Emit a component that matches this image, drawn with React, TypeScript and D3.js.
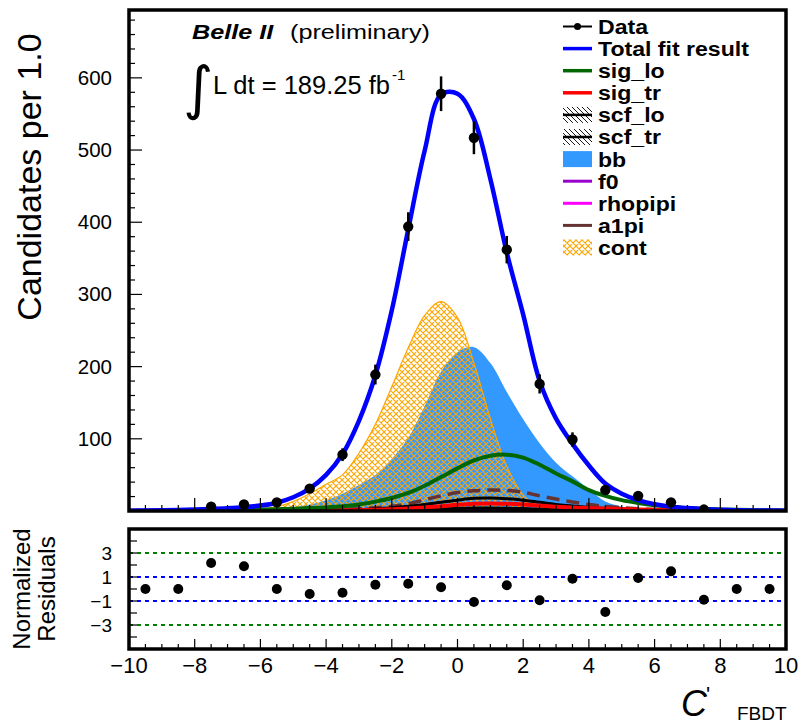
import React from 'react';
import * as d3 from 'd3';

// ---------- data ----------
const binCenters = [-9.5, -8.5, -7.5, -6.5, -5.5, -4.5, -3.5, -2.5, -1.5, -0.5, 0.5, 1.5, 2.5, 3.5, 4.5, 5.5, 6.5, 7.5, 8.5, 9.5];
const dataCounts = [0, 0, 6, 9, 12, 31, 78, 189, 394, 578, 517, 362, 176, 99, 29, 21, 12, 2, 0, 0];
const pullValues = [0, 0, 2.17, 1.89, 0, -0.42, -0.31, 0.36, 0.44, 0.14, -1.08, 0.31, -0.94, 0.86, -1.92, 0.92, 1.47, -0.89, 0, 0];

const gridX = [-10, -9.5, -9, -8.5, -8, -7.5, -7, -6.5, -6, -5.5, -5, -4.5, -4, -3.5, -3, -2.5, -2, -1.5, -1, -0.5, 0, 0.5, 1, 1.5, 2, 2.5, 3, 3.5, 4, 4.5, 5, 5.5, 6, 6.5, 7, 7.5, 8, 8.5, 9, 9.5, 10];
const totalFit = [0.5, 0.7, 1, 1.4, 2, 2.7, 3.7, 5.2, 7.5, 11.5, 19, 31, 50, 79, 125, 188, 278, 390, 499, 577, 578, 543, 460, 358, 272, 180, 128, 93, 63, 38, 24, 15, 9.5, 6, 4, 2.5, 1.6, 1.1, 0.8, 0.6, 0.5];
const contPdf = [0, 0, 0, 0, 0.1, 0.2, 0.5, 1.2, 2.5, 6, 13, 24, 37, 50, 80, 120, 172, 226, 271, 290, 268, 205, 128, 62, 22, 6, 1, 0.2, 0, 0, 0, 0, 0, 0, 0, 0, 0, 0, 0, 0, 0];
const bbPdf = [0, 0, 0, 0.1, 0.2, 0.3, 0.5, 1, 1.5, 3, 5, 9, 15, 24, 36, 50, 72, 101, 145, 193, 220, 227, 205, 165, 127, 94, 67, 48, 30, 13, 6, 2.5, 1, 0.5, 0.2, 0, 0, 0, 0, 0, 0];
const sigLoPdf = [0.3, 0.4, 0.5, 0.6, 0.8, 1, 1.2, 1.5, 2, 2.5, 3, 4, 5, 6.5, 9, 13, 18, 25, 35, 47, 59, 70, 76.5, 78, 74, 64, 52, 41, 29, 21, 15, 11, 8, 6, 4.2, 3, 2.2, 1.6, 1.2, 0.9, 0.7];
const sigTrPdf = [0.2, 0.2, 0.2, 0.25, 0.3, 0.3, 0.35, 0.4, 0.5, 0.55, 0.6, 0.7, 0.8, 1, 1.2, 1.8, 2.5, 3.5, 5, 6.5, 8.5, 10, 10.5, 10, 9, 7.5, 6, 5, 4, 3.3, 2.7, 2.2, 1.8, 1.5, 1.2, 1, 0.8, 0.6, 0.5, 0.4, 0.3];
const scfLoPdf = [0, 0, 0, 0, 0, 0, 0.1, 0.1, 0.2, 0.3, 0.4, 0.5, 0.6, 1, 1.8, 3, 4.5, 6.5, 9, 12, 15, 17.5, 18, 17, 15, 12, 9, 7, 5, 3.5, 2.5, 1.8, 1.2, 0.8, 0.5, 0.3, 0.2, 0.1, 0.1, 0, 0];
const scfTrPdf = [0, 0, 0, 0, 0, 0, 0, 0, 0, 0.1, 0.1, 0.2, 0.3, 0.4, 0.6, 0.9, 1.3, 1.8, 2.4, 3, 3.6, 4, 4.1, 3.8, 3.3, 2.6, 2, 1.5, 1.1, 0.8, 0.6, 0.4, 0.3, 0.2, 0.1, 0.1, 0, 0, 0, 0, 0];
const f0Pdf = [0, 0, 0, 0, 0, 0, 0, 0, 0, 0, 0.1, 0.1, 0.2, 0.3, 0.4, 0.6, 0.9, 1.3, 1.8, 2.3, 2.7, 3, 3.1, 2.9, 2.5, 2, 1.5, 1.1, 0.8, 0.5, 0.3, 0.2, 0.1, 0.1, 0, 0, 0, 0, 0, 0, 0];
const rhoPdf = [0, 0, 0, 0, 0, 0, 0, 0, 0, 0, 0, 0.1, 0.1, 0.2, 0.3, 0.4, 0.6, 0.8, 1.1, 1.4, 1.6, 1.8, 1.8, 1.7, 1.5, 1.2, 0.9, 0.7, 0.5, 0.3, 0.2, 0.1, 0.1, 0, 0, 0, 0, 0, 0, 0, 0];
const a1piPdf = [0, 0, 0, 0, 0, 0, 0, 0, 0.1, 0.2, 0.4, 0.7, 1.2, 2, 3, 4.5, 6.5, 10, 15.5, 21, 25.5, 28, 29, 28.5, 26, 21, 16.5, 12.5, 9, 6.5, 4.5, 3, 2, 1.3, 0.8, 0.5, 0.3, 0.2, 0.1, 0.1, 0];

const yTickValues = [100, 200, 300, 400, 500, 600];
const xTickValues = [-10, -8, -6, -4, -2, 0, 2, 4, 6, 8, 10];
const resTickLabels = [3, 1, -1, -3];

const legendEntries = ['Data', 'Total fit result', 'sig_lo', 'sig_tr', 'scf_lo', 'scf_tr', 'bb', 'f0', 'rhopipi', 'a1pi', 'cont'];

// ---------- layout ----------
const W = 805, H = 727;
const X0 = 129, X1 = 786;
const MAIN_TOP = 10, MAIN_BOT = 511;
const RES_TOP = 529, RES_BOT = 649;
const FONT = '"Liberation Sans", Arial, Helvetica, sans-serif';

const C = {
  total: '#0000ff', sigLo: '#006600', sigTr: '#ff0000', bb: '#3399ff',
  f0: '#9900cc', rho: '#ff00ff', a1pi: '#663333', cont: '#ffa500',
};

export default function App() {
  const x = d3.scaleLinear().domain([-10, 10]).range([X0, X1]);
  const y = d3.scaleLinear().domain([0, 694]).range([MAIN_BOT, MAIN_TOP]);
  const yr = d3.scaleLinear().domain([-5, 5]).range([RES_BOT, RES_TOP]);

  const pts = (vals: number[]) => gridX.map((gx, i) => [gx, vals[i]] as [number, number]);
  const line = d3.line<[number, number]>().x(d => x(d[0])).y(d => y(d[1])).curve(d3.curveCatmullRom.alpha(0.5));
  const area = d3.area<[number, number]>().x(d => x(d[0])).y0(y(0)).y1(d => y(d[1])).curve(d3.curveCatmullRom.alpha(0.5));

  const minorX = d3.range(-10, 10.001, 0.5);
  const minorY = d3.range(0, 694, 20);
  const resTicks = d3.range(-4, 4.001, 1);

  const legY = (i: number) => 26.5 + i * 22.1;
  const LX0 = 563, LX1 = 592, LT = 598;

  return (
    <svg width={W} height={H} style={{ position: 'absolute', left: 0, top: 0, background: '#fff' }} fontFamily={FONT}>
      <defs>
        <clipPath id="mainClip"><rect x={X0} y={MAIN_TOP} width={X1 - X0} height={MAIN_BOT - MAIN_TOP} /></clipPath>
        <pattern id="crossHatch" width="6" height="6" patternUnits="userSpaceOnUse">
          <path d="M0,0 L6,6 M6,0 L0,6 M-1,5 L1,7 M5,-1 L7,1 M-1,1 L1,-1 M5,7 L7,5" stroke={C.cont} strokeWidth="1.1" fill="none" />
        </pattern>
        <pattern id="diagHatch" width="5" height="5" patternUnits="userSpaceOnUse">
          <path d="M0,0 L5,5 M-1,4 L1,6 M4,-1 L6,1" stroke="#000" strokeWidth="0.9" fill="none" />
        </pattern>
      </defs>

      {/* ---------- main panel ---------- */}
      <g clipPath="url(#mainClip)">
        <path d={area(pts(bbPdf)) || ''} fill={C.bb} />
        <path d={area(pts(contPdf)) || ''} fill="url(#crossHatch)" stroke={C.cont} strokeWidth={1.2} />
        <path d={line(pts(rhoPdf)) || ''} fill="none" stroke={C.rho} strokeWidth={3} />
        <path d={line(pts(f0Pdf)) || ''} fill="none" stroke={C.f0} strokeWidth={3} />
        <path d={line(pts(a1piPdf)) || ''} fill="none" stroke={C.a1pi} strokeWidth={3.5} strokeDasharray="13,7" />
        <path d={line(pts(scfTrPdf)) || ''} fill="none" stroke="#000" strokeWidth={3} />
        <path d={line(pts(scfLoPdf)) || ''} fill="none" stroke="#000" strokeWidth={3} />
        <path d={line(pts(sigTrPdf)) || ''} fill="none" stroke={C.sigTr} strokeWidth={4} />
        <path d={line(pts(sigLoPdf)) || ''} fill="none" stroke={C.sigLo} strokeWidth={4} />
        <path d={line(pts(totalFit)) || ''} fill="none" stroke={C.total} strokeWidth={4.5} />
        {binCenters.map((bx, i) => {
          const n = dataCounts[i];
          if (n <= 0) return null;
          const e = Math.sqrt(n);
          return (
            <g key={i}>
              <line x1={x(bx)} x2={x(bx)} y1={y(n - e)} y2={y(n + e)} stroke="#000" strokeWidth={2.5} />
              <circle cx={x(bx)} cy={y(n)} r={5.2} fill="#000" />
            </g>
          );
        })}
      </g>

      {/* main axes ticks */}
      {minorX.map(v => {
        const major = Math.abs(v % 2) < 1e-6;
        return <line key={'mx' + v} x1={x(v)} x2={x(v)} y1={MAIN_BOT} y2={MAIN_BOT - (major ? 13 : 6)} stroke="#000" strokeWidth={1.2} />;
      })}
      {minorY.map(v => {
        const major = v % 100 === 0;
        return <line key={'my' + v} x1={X0} x2={X0 + (major ? 13 : 6)} y1={y(v)} y2={y(v)} stroke="#000" strokeWidth={1.2} />;
      })}
      <rect x={X0} y={MAIN_TOP} width={X1 - X0} height={MAIN_BOT - MAIN_TOP} fill="none" stroke="#000" strokeWidth={3.5} />
      {yTickValues.map(v => (
        <text key={'yl' + v} x={112} y={y(v) + 7} textAnchor="end" fontSize={20.5}>{v}</text>
      ))}
      <text transform={`translate(41,177) rotate(-90)`} textAnchor="middle" fontSize={34}>Candidates per 1.0</text>

      {/* labels */}
      <text x={192} y={39} fontSize={21} fontWeight="bold" fontStyle="italic" transform="translate(192,0) scale(1.2,1) translate(-192,0)">Belle II</text>
      <text x={290} y={39} fontSize={21} transform="translate(290,0) scale(1.2,1) translate(-290,0)">(preliminary)</text>
      <text x={183} y={108} fontSize={58} fontFamily='"DejaVu Sans", sans-serif'>∫</text>
      <text x={213} y={94} fontSize={25.5}>L dt = 189.25 fb</text>
      <text x={392} y={80} fontSize={15}>-1</text>

      {/* legend */}
      {legendEntries.map((name, i) => {
        const cy = legY(i);
        let sym: React.ReactNode = null;
        if (name === 'Data') {
          sym = (<g><line x1={LX0} x2={LX1} y1={cy} y2={cy} stroke="#000" strokeWidth={2} /><circle cx={(LX0 + LX1) / 2} cy={cy} r={3.5} fill="#000" /></g>);
        } else if (name === 'Total fit result') {
          sym = <line x1={LX0} x2={LX1} y1={cy} y2={cy} stroke={C.total} strokeWidth={3.5} />;
        } else if (name === 'sig_lo') {
          sym = <line x1={LX0} x2={LX1} y1={cy} y2={cy} stroke={C.sigLo} strokeWidth={3.5} />;
        } else if (name === 'sig_tr') {
          sym = <line x1={LX0} x2={LX1} y1={cy} y2={cy} stroke={C.sigTr} strokeWidth={3.5} />;
        } else if (name === 'scf_lo' || name === 'scf_tr') {
          sym = (<g><rect x={LX0} y={cy - 8} width={LX1 - LX0} height={16} fill="url(#diagHatch)" /><line x1={LX0} x2={LX1} y1={cy} y2={cy} stroke="#000" strokeWidth={2.5} /></g>);
        } else if (name === 'bb') {
          sym = <rect x={LX0} y={cy - 8} width={LX1 - LX0} height={16} fill={C.bb} />;
        } else if (name === 'f0') {
          sym = <line x1={LX0} x2={LX1} y1={cy} y2={cy} stroke={C.f0} strokeWidth={3} />;
        } else if (name === 'rhopipi') {
          sym = <line x1={LX0} x2={LX1} y1={cy} y2={cy} stroke={C.rho} strokeWidth={3} />;
        } else if (name === 'a1pi') {
          sym = <line x1={LX0} x2={LX1} y1={cy} y2={cy} stroke={C.a1pi} strokeWidth={3} />;
        } else if (name === 'cont') {
          sym = <rect x={LX0} y={cy - 8} width={LX1 - LX0} height={16} fill="url(#crossHatch)" />;
        }
        return (
          <g key={name}>
            {sym}
            <text x={LT} y={cy + 7.5} fontSize={21} fontWeight="bold" transform={`translate(${LT},0) scale(1.1,1) translate(${-LT},0)`}>{name}</text>
          </g>
        );
      })}

      {/* ---------- residual panel ---------- */}
      <line x1={X0} x2={X1} y1={yr(3)} y2={yr(3)} stroke="#008000" strokeWidth={2} strokeDasharray="4,4" />
      <line x1={X0} x2={X1} y1={yr(-3)} y2={yr(-3)} stroke="#008000" strokeWidth={2} strokeDasharray="4,4" />
      <line x1={X0} x2={X1} y1={yr(1)} y2={yr(1)} stroke="#0000ff" strokeWidth={2} strokeDasharray="4,4" />
      <line x1={X0} x2={X1} y1={yr(-1)} y2={yr(-1)} stroke="#0000ff" strokeWidth={2} strokeDasharray="4,4" />
      {binCenters.map((bx, i) => (
        <circle key={'r' + i} cx={x(bx)} cy={yr(pullValues[i])} r={5} fill="#000" />
      ))}
      {minorX.map(v => {
        const major = Math.abs(v % 2) < 1e-6;
        return <line key={'rx' + v} x1={x(v)} x2={x(v)} y1={RES_BOT} y2={RES_BOT - (major ? 10 : 5)} stroke="#000" strokeWidth={1.2} />;
      })}
      {resTicks.map(v => (
        <line key={'ry' + v} x1={X0} x2={X0 + 8} y1={yr(v)} y2={yr(v)} stroke="#000" strokeWidth={1.2} />
      ))}
      <rect x={X0} y={RES_TOP} width={X1 - X0} height={RES_BOT - RES_TOP} fill="none" stroke="#000" strokeWidth={3.5} />
      {resTickLabels.map(v => (
        <text key={'rl' + v} x={112} y={yr(v) + 7} textAnchor="end" fontSize={19}>{v < 0 ? '\u2212' + Math.abs(v) : v}</text>
      ))}
      {xTickValues.map(v => (
        <text key={'xl' + v} x={x(v)} y={673} textAnchor="middle" fontSize={22}>{v < 0 ? '\u2212' + Math.abs(v) : v}</text>
      ))}
      <text transform="translate(30,589) rotate(-90)" textAnchor="middle" fontSize={24}>Normalized</text>
      <text transform="translate(55,589) rotate(-90)" textAnchor="middle" fontSize={24}>Residuals</text>

      {/* x title */}
      <text x={681} y={716} fontSize={36} fontStyle="italic">C</text>
      <text x={706} y={702} fontSize={22}>'</text>
      <text x={737} y={720} fontSize={19}>FBDT</text>
    </svg>
  );
}
